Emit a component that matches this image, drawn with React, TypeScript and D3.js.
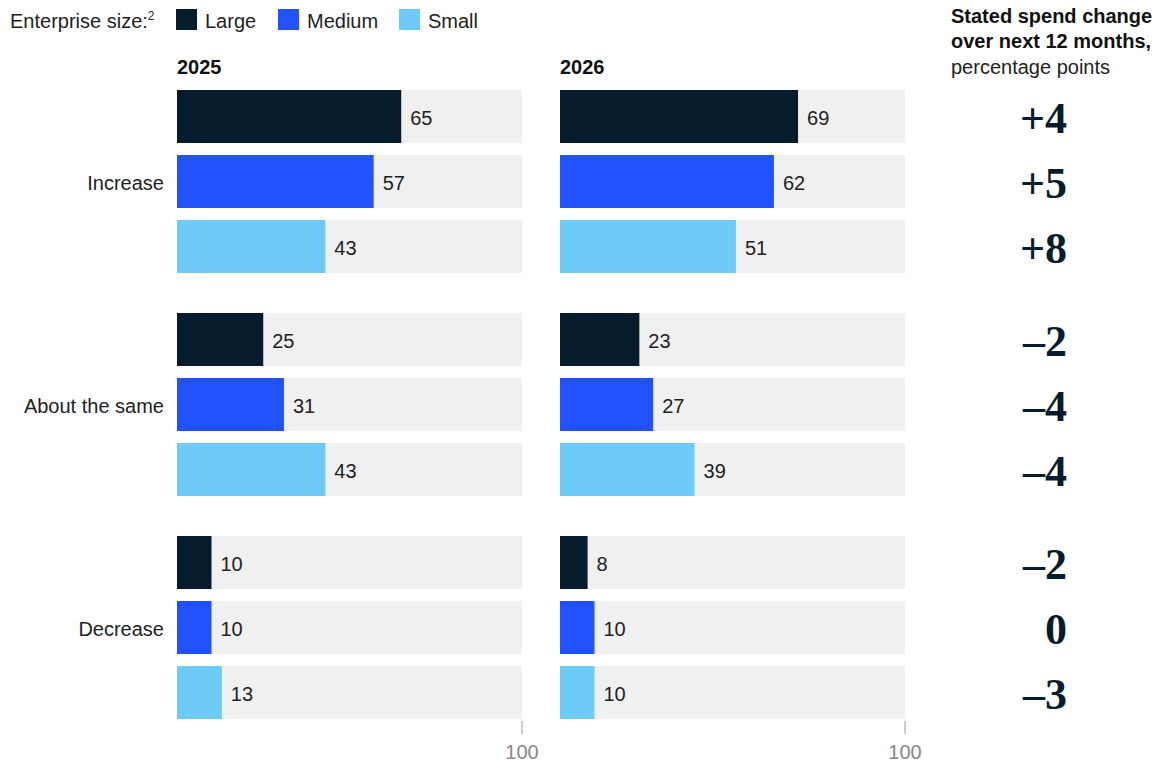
import React from "react";
import * as d3 from "d3";

const categories = ["Increase", "About the same", "Decrease"];
const sizes = ["Large", "Medium", "Small"];
const years = ["2025", "2026"];
const values2025 = [
  [65, 57, 43],
  [25, 31, 43],
  [10, 10, 13],
];
const values2026 = [
  [69, 62, 51],
  [23, 27, 39],
  [8, 10, 10],
];
const changeLabels = [
  ["+4", "+5", "+8"],
  ["–2", "–4", "–4"],
  ["–2", "0", "–3"],
];
const colors = ["#061c2c", "#2251ff", "#6ecbf7"];

const W = 1170;
const H = 764;
const sans = "'Liberation Sans', Arial, sans-serif";
const serif = "'Liberation Serif', 'DejaVu Serif', serif";

export default function App() {
  const panels = [
    { x0: 177, vals: values2025 },
    { x0: 560, vals: values2026 },
  ];
  const panelW = 345;
  const rows: { cat: number; size: number }[] = [];
  categories.forEach((_, c) => sizes.forEach((_, s) => rows.push({ cat: c, size: s })));
  const yCat = d3.scaleBand<number>().domain([0, 1, 2]).range([90, 90 + 223 * 3]).paddingInner(0);
  const ySize = d3
    .scaleBand<number>()
    .domain([0, 1, 2])
    .range([0, 183])
    .paddingInner(12 / 65)
    .paddingOuter(0);
  const barH = ySize.bandwidth();

  return (
    <svg width={W} height={H} style={{ position: "absolute", left: 0, top: 0, background: "#fff" }}>
      {/* Legend */}
      <text x={10} y={28} fontFamily={sans} fontSize={20} fill="#222">
        Enterprise size:<tspan fontSize={12} dy={-8}>2</tspan>
      </text>
      {sizes.map((s, i) => {
        const lx = [176, 278, 399][i];
        return (
          <g key={s}>
            <rect x={lx} y={9} width={21} height={21} fill={colors[i]} />
            <text x={lx + 29} y={28} fontFamily={sans} fontSize={20} fill="#222">
              {s}
            </text>
          </g>
        );
      })}
      {/* right header */}
      <text x={951} y={23} fontFamily={sans} fontSize={20} fontWeight="bold" fill="#111">
        Stated spend change
      </text>
      <text x={951} y={48} fontFamily={sans} fontSize={20} fontWeight="bold" fill="#111">
        over next 12 months,
      </text>
      <text x={951} y={74} fontFamily={sans} fontSize={20} fill="#222">
        percentage points
      </text>

      {panels.map((p, pi) => {
        const x = d3.scaleLinear().domain([0, 100]).range([p.x0, p.x0 + panelW]);
        return (
          <g key={pi}>
            <text x={p.x0} y={74} fontFamily={sans} fontSize={20} fontWeight="bold" fill="#111">
              {years[pi]}
            </text>
            {rows.map(({ cat, size }) => {
              const y = (yCat(cat) as number) + (ySize(size) as number);
              const v = p.vals[cat][size];
              return (
                <g key={`${cat}-${size}`}>
                  <rect x={x(0)} y={y} width={x(100) - x(0)} height={barH} fill="#f0f0f0" />
                  <rect x={x(0)} y={y} width={x(v) - x(0)} height={barH} fill={colors[size]} />
                  <text
                    x={x(v) + 9}
                    y={y + barH / 2}
                    dy="0.42em"
                    fontFamily={sans}
                    fontSize={20}
                    fill="#222"
                  >
                    {v}
                  </text>
                </g>
              );
            })}
            <line x1={x(100)} x2={x(100)} y1={721} y2={734} stroke="#999" strokeWidth={1} />
            <text x={x(100)} y={759} textAnchor="middle" fontFamily={sans} fontSize={20} fill="#888">
              100
            </text>
          </g>
        );
      })}

      {categories.map((c, ci) => (
        <text
          key={c}
          x={164}
          y={(yCat(ci) as number) + (ySize(1) as number) + barH / 2}
          dy="0.42em"
          textAnchor="end"
          fontFamily={sans}
          fontSize={20}
          fill="#222"
        >
          {c}
        </text>
      ))}

      {rows.map(({ cat, size }) => {
        const y = (yCat(cat) as number) + (ySize(size) as number);
        return (
          <text
            key={`chg-${cat}-${size}`}
            x={1067}
            y={y + barH / 2}
            dy="0.38em"
            textAnchor="end"
            fontFamily={serif}
            fontWeight="bold"
            fontSize={44}
            fill="#061c2c"
          >
            {changeLabels[cat][size]}
          </text>
        );
      })}
    </svg>
  );
}
